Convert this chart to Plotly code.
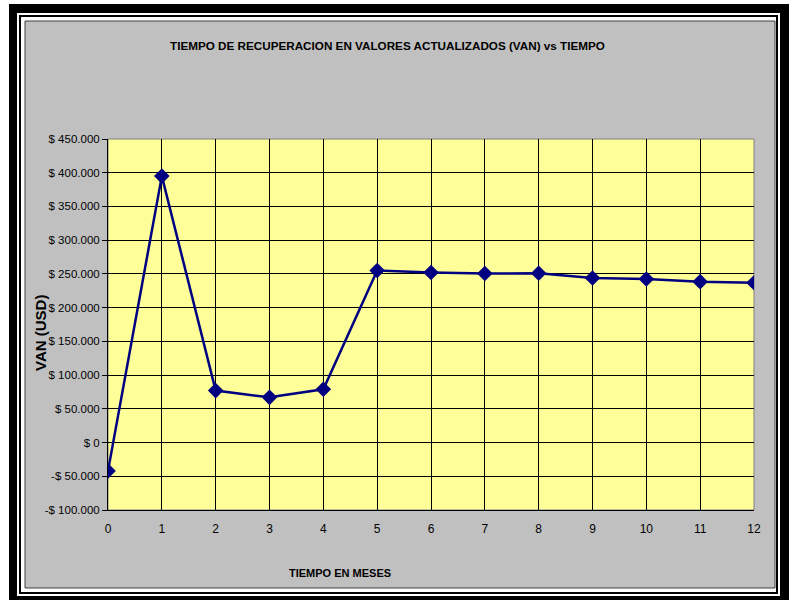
import plotly.graph_objects as go

meses = list(range(13))
van = [-42000, 395000, 77000, 67000, 79000, 255000, 252000, 250500, 251000, 244000, 242500, 238500, 237000]
y_ticks = [-100000, -50000, 0, 50000, 100000, 150000, 200000, 250000, 300000, 350000, 400000, 450000]
y_labels = ["-$ 100.000", "-$ 50.000", "$ 0", "$ 50.000", "$ 100.000", "$ 150.000", "$ 200.000",
            "$ 250.000", "$ 300.000", "$ 350.000", "$ 400.000", "$ 450.000"]
titulo = "TIEMPO DE RECUPERACION EN VALORES ACTUALIZADOS (VAN) vs TIEMPO"

W, H = 789, 600
L, R, T, B = 108, 754, 139, 510
FONT = "Liberation Sans Narrow, Liberation Sans, Arial, sans-serif"

def px(x):
    return (x - L) / (R - L)

def py(y):
    return (B - y) / (B - T)

def rect(x0, y0, x1, y1, fill, line=None, lw=0):
    return dict(type="rect", xref="paper", yref="paper", layer="below",
                x0=px(x0), x1=px(x1), y0=py(y1), y1=py(y0),
                fillcolor=fill, line=dict(color=line or fill, width=lw))

shapes = [
    rect(9, 4, 789, 600, "black"),
    rect(17, 13, 780, 596, "white"),
    rect(19, 15, 778, 594, "black"),
    rect(21, 17, 776, 592, "white"),
    rect(25, 21, 775, 588, "#C0C0C0", "#404040", 1),
    dict(type="rect", xref="paper", yref="paper", layer="below", x0=0, x1=1, y0=0, y1=1,
         fillcolor="#FFFF99", line=dict(color="#808080", width=1)),
]

fig = go.Figure(go.Scatter(
    x=meses, y=van, mode="lines+markers",
    line=dict(color="#000080", width=2.5),
    marker=dict(symbol="diamond", size=12, color="#000080"),
))

fig.update_layout(
    width=W, height=H,
    margin=dict(l=L, r=W - R, t=T, b=H - B, pad=0),
    paper_bgcolor="white", plot_bgcolor="#FFFF99",
    showlegend=False,
    shapes=shapes,
    font=dict(family=FONT, size=11, color="black"),
    xaxis=dict(range=[0, 12], tickvals=meses, ticks="", showgrid=True, gridcolor="black", gridwidth=1,
               showline=True, linecolor="black", linewidth=1, zeroline=False,
               tickfont=dict(family=FONT, size=12), ticklabelstandoff=8),
    yaxis=dict(range=[-100000, 450000], tickvals=y_ticks, ticktext=y_labels, ticks="outside",
               ticklen=5, tickcolor="black", showgrid=True, gridcolor="black", gridwidth=1,
               showline=True, linecolor="black", linewidth=1, zeroline=False,
               tickfont=dict(family=FONT, size=11.5)),
    annotations=[
        dict(text="<b>" + titulo + "</b>", xref="paper", yref="paper", x=px(387), y=py(46),
             showarrow=False, font=dict(family=FONT, size=11.7), xanchor="center", yanchor="middle"),
        dict(text="<b>VAN (USD)</b>", xref="paper", yref="paper", x=px(40), y=py(333),
             showarrow=False, textangle=-90, font=dict(family=FONT, size=15),
             xanchor="center", yanchor="middle"),
        dict(text="<b>TIEMPO EN MESES</b>", xref="paper", yref="paper", x=px(340), y=py(573),
             showarrow=False, font=dict(family=FONT, size=11), xanchor="center", yanchor="middle"),
    ],
)

fig.write_html("out.html", config={"displayModeBar": False},
               post_script="document.body.style.margin='0';")
